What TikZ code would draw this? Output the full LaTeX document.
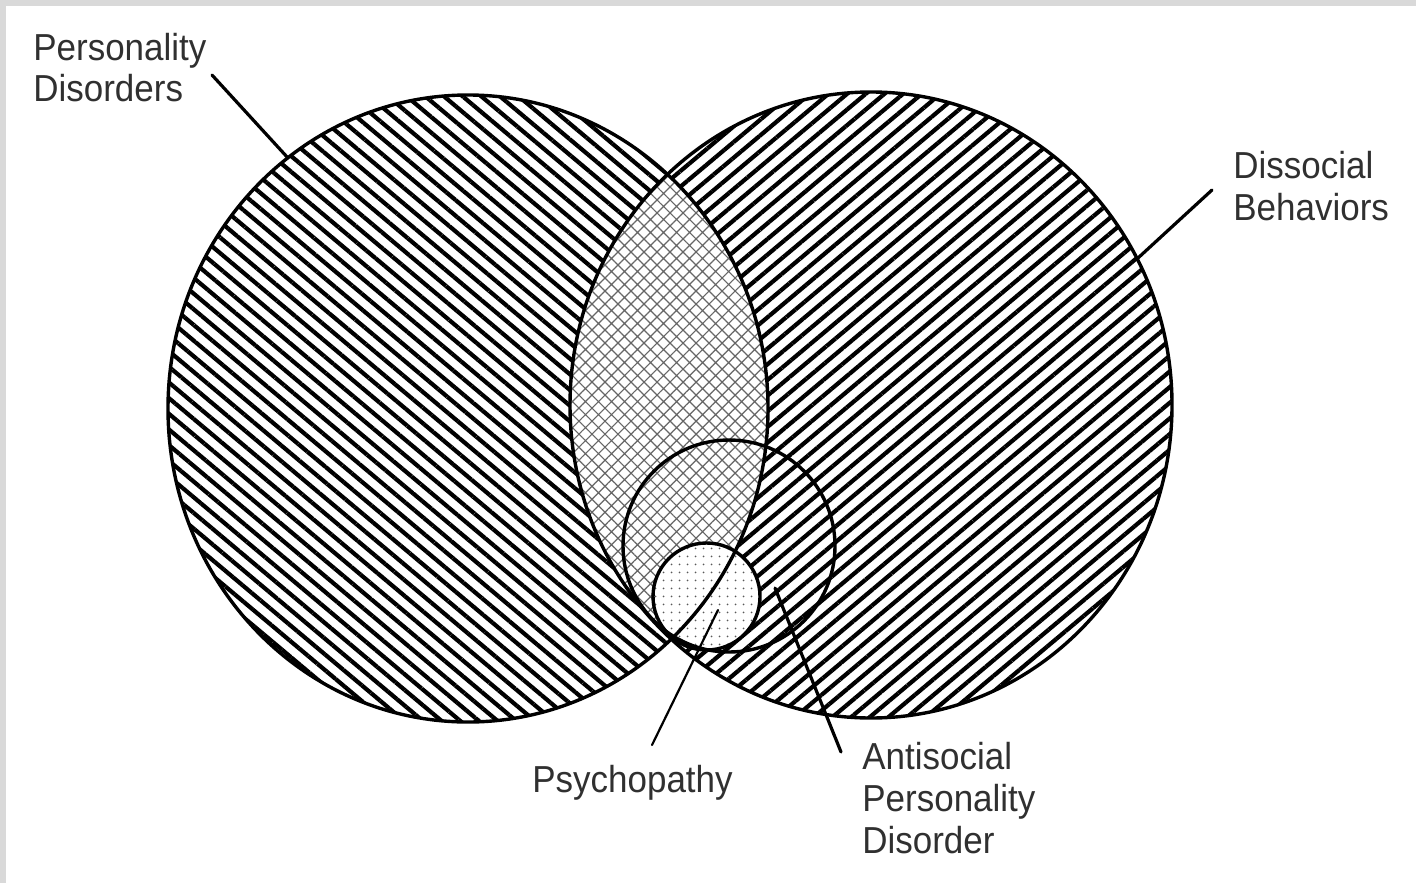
\documentclass[tikz,border=0pt]{standalone}
\usepackage{fontspec}
\setmainfont[FakeStretch=0.93]{Liberation Sans}
\usetikzlibrary{patterns.meta}
\definecolor{labelgray}{HTML}{303030}
\definecolor{framegray}{HTML}{D9D9D9}

\begin{document}
\begin{tikzpicture}[x=0.5pt,y=-0.5pt,
  outline/.style={draw=black,line width=1.7pt},
  leader/.style={draw=black,line width=1.6pt,line cap=round},
  lbl/.style={anchor=base west,inner sep=0pt,align=left,text=labelgray,
    font=\fontsize{18.8}{20.8}\selectfont},
  pdhatch/.style={pattern={Lines[angle=-40,distance=6pt,line width=2.1pt]},pattern color=black},
  dbhatch/.style={pattern={Lines[angle=40,distance=6pt,line width=2.1pt]},pattern color=black},
  crosshatch/.style={pattern={Hatch[angle=45,distance=4.6pt,line width=0.6pt]},pattern color=black!60},
  dotfill/.style={pattern={Dots[distance=4pt,radius=0.55pt]},pattern color=black!65}]
\useasboundingbox (0,0) rectangle (1416,883);
% frame and page
\fill[framegray] (0,0) rectangle (1416,883);
\fill[white] (6,6) rectangle (1416,883);
% centres of the sets
\coordinate (pd) at (468,408.5);
\coordinate (db) at (871,405);
\coordinate (apd) at (729,546);
\coordinate (psy) at (706.5,596.5);
% hatched sets
\path[pdhatch] (pd) ellipse [x radius=300,y radius=313.5];
\path[dbhatch] (db) ellipse [x radius=301,y radius=313];
\begin{scope}
  \clip (pd) ellipse [x radius=300,y radius=313.5];
  \fill[white] (db) ellipse [x radius=301,y radius=313];
  \path[crosshatch] (db) ellipse [x radius=301,y radius=313];
\end{scope}
\fill[white] (psy) circle [radius=53.5];
\path[dotfill] (psy) circle [radius=53.5];
% outlines
\draw[outline] (pd) ellipse [x radius=300,y radius=313.5];
\draw[outline] (db) ellipse [x radius=301,y radius=313];
\draw[outline] (apd) circle [radius=106];
\draw[outline] (psy) circle [radius=53.5];
% labels (base = last line)
\node[lbl] (pdlbl) at (33,102) {Personality\\Disorders};
\node[lbl] (dblbl) at (1233,220) {Dissocial\\Behaviors};
\node[lbl] (psylbl) at (532,792) {Psychopathy};
\node[lbl] (apdlbl) at (862,853) {Antisocial\\Personality\\Disorder};
% leader ends
\coordinate (pdfrom) at (212,75);
\coordinate (pdto) at (288,158);
\coordinate (dbfrom) at (1212,190);
\coordinate (dbto) at (1138,258);
\coordinate (psyfrom) at (652,745);
\coordinate (psyto) at (718,610);
\coordinate (apdfrom) at (841,752);
\coordinate (apdto) at (775,588);
\draw[leader] (pdfrom) -- (pdto);
\draw[leader] (dbfrom) -- (dbto);
\draw[leader,line width=1.1pt] (psyfrom) -- (psyto);
\draw[leader] (apdfrom) -- (apdto);
\end{tikzpicture}
\end{document}
